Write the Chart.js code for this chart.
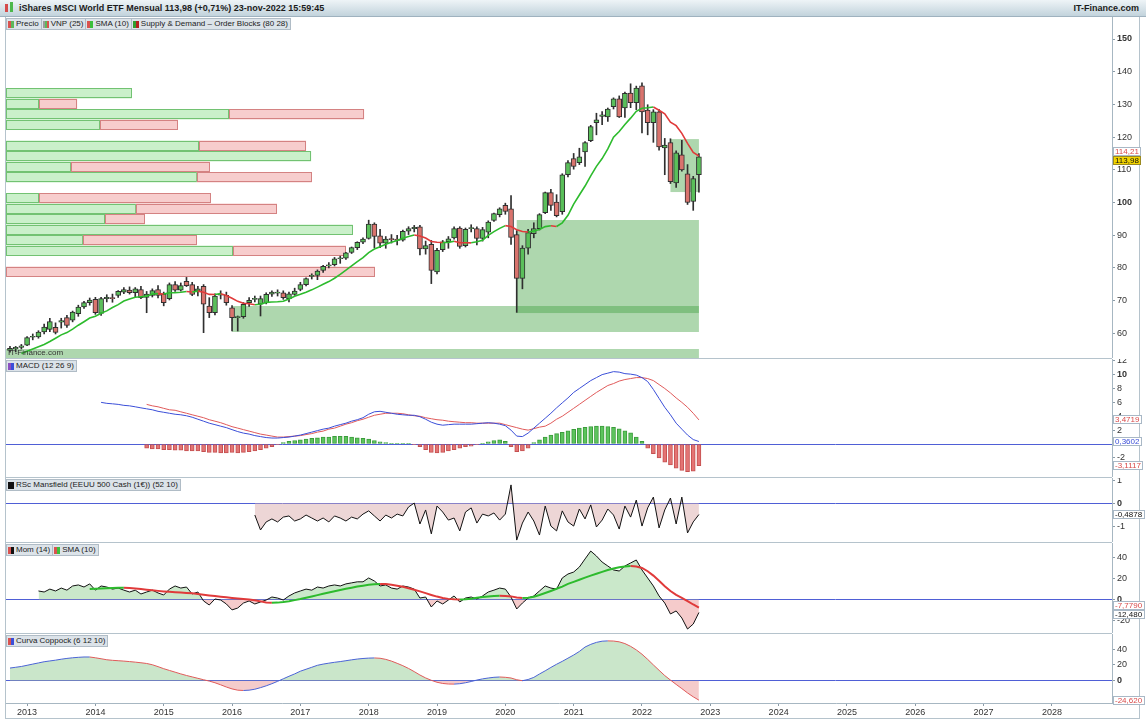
<!DOCTYPE html>
<html>
<head>
<meta charset="utf-8">
<script src="https://cdn.jsdelivr.net/npm/chart.js@4.4.0/dist/chart.umd.min.js"></script>
<style>
  html, body { margin: 0; padding: 0; background: #fff; }
  body { width: 1146px; height: 722px; position: relative; overflow: hidden; font-family: "Liberation Sans", Arial, sans-serif; }
  #title { position: absolute; left: 0; top: 0; width: 1146px; height: 16px; border-bottom: 1px solid #9fb2bf;
    background: linear-gradient(#eef4f7, #c2d3dc); font-size: 9px; font-weight: bold; color: #1b1b1b; line-height: 16px; }
  #title .name { position: absolute; left: 19px; }
  #title .site { position: absolute; right: 7px; }
  #title .logo { position: absolute; left: 5px; top: 4px; width: 3px; height: 8px; background: #d54b4b; }
  #title .logo2 { position: absolute; left: 10px; top: 2px; width: 3px; height: 10px; background: #4cb84c; }
  canvas { position: absolute; left: 0; }
  .tags { position: absolute; left: 6px; display: flex; z-index: 5; }
  .tag { height: 10px; line-height: 10px; font-size: 8px; background: #dce3e9; border: 1px solid #b0bcc6; margin-right: -1px;
    padding: 0 2px 0 1px; color: #222; display: flex; align-items: center; white-space: nowrap; }
  .ic { display: inline-block; width: 6px; height: 7px; margin-right: 2px; }
  .line { position: absolute; background: #b5c3cc; }
  .mark { position: absolute; left: 8px; top: 348px; font-size: 8px; color: #333; z-index: 5; }
</style>
</head>
<body>
<div id="title"><span class="logo"></span><span class="logo2"></span>
  <span class="name">iShares MSCI World ETF Mensual 113,98 (+0,71%) 23-nov-2022 15:59:45</span>
  <span class="site">IT-Finance.com</span></div>

<div class="line" style="left:5px;top:17px;width:1px;height:702px"></div>
<div class="line" style="left:1139px;top:17px;width:1px;height:702px"></div>
<div class="line" style="left:5px;top:718px;width:1135px;height:1px"></div>
<div class="line" style="left:5px;top:358px;width:1107px;height:1px"></div>
<div class="line" style="left:5px;top:477px;width:1107px;height:1px"></div>
<div class="line" style="left:5px;top:542px;width:1107px;height:1px"></div>
<div class="line" style="left:5px;top:633px;width:1107px;height:1px"></div>

<canvas id="main" width="1146" height="341" style="top:17px"></canvas>
<canvas id="macd" width="1146" height="118" style="top:359px"></canvas>
<canvas id="rsc" width="1146" height="64" style="top:478px"></canvas>
<canvas id="mom" width="1146" height="90" style="top:543px"></canvas>
<canvas id="cop" width="1146" height="84" style="top:634px"></canvas>

<div class="tags" style="top:18px">
  <span class="tag"><i class="ic" style="background:linear-gradient(90deg,#d9534f 50%,#5cb85c 50%)"></i>Precio</span>
  <span class="tag"><i class="ic" style="background:linear-gradient(90deg,#9a9a9a 33%,#5cb85c 33%,#5cb85c 66%,#d9534f 66%)"></i>VNP (25)</span>
  <span class="tag"><i class="ic" style="background:linear-gradient(90deg,#d9534f 50%,#3cbf3c 50%)"></i>SMA (10)</span>
  <span class="tag"><i class="ic" style="background:linear-gradient(90deg,#2f9e2f 50%,#b52020 50%)"></i>Supply &amp; Demand – Order Blocks (80 28)</span>
</div>
<div class="tags" style="top:360px">
  <span class="tag"><i class="ic" style="background:linear-gradient(90deg,#8a4fc0 50%,#3b4fd8 50%)"></i>MACD (12 26 9)</span>
</div>
<div class="tags" style="top:479px">
  <span class="tag"><i class="ic" style="background:#111"></i>RSc Mansfield (EEUU 500 Cash (1€)) (52 10)</span>
</div>
<div class="tags" style="top:544px">
  <span class="tag"><i class="ic" style="background:linear-gradient(90deg,#d9534f 50%,#111 50%)"></i>Mom (14)</span>
  <span class="tag"><i class="ic" style="background:linear-gradient(90deg,#d9534f 50%,#3cbf3c 50%)"></i>SMA (10)</span>
</div>
<div class="tags" style="top:635px">
  <span class="tag"><i class="ic" style="background:linear-gradient(90deg,#d9534f 50%,#3b4fd8 50%)"></i>Curva Coppock (6 12 10)</span>
</div>
<div class="mark">IT-Finance.com</div>

<script>
// monthly candles, index 0 = oct 2012 ... 121 = nov 2022
const open = [
  54.8, 55.2, 55.7, 56.4, 58.8, 58.9, 60.4, 61.2, 61.8, 63.4,
  64.8, 64.0, 66.0, 68.1, 69.4, 70.4, 66.1, 70.6, 70.8, 71.6,
  72.6, 73.2, 72.4, 73.4, 71.0, 71.6, 73.4, 71.9, 70.6, 74.9,
  73.2, 75.9, 74.9, 72.9, 74.4, 68.3, 66.3, 71.7, 71.6, 67.8,
  64.8, 65.1, 69.4, 70.4, 68.9, 69.4, 72.0, 72.3, 72.4, 70.6,
  71.9, 73.4, 74.9, 77.4, 77.7, 79.2, 80.6, 81.0, 82.8, 83.0,
  84.7, 86.2, 87.9, 89.0, 93.4, 89.8, 87.6, 89.0, 88.8, 88.5,
  91.2, 92.0, 92.6, 85.8, 87.2, 78.8, 85.6, 88.0, 89.2, 92.2,
  86.8, 92.0, 92.0, 89.0, 90.9, 94.5, 96.3, 99.1, 98.1, 90.2,
  76.8, 86.0, 90.5, 92.0, 96.9, 103.0, 100.1, 97.2, 108.5, 113.4,
  112.2, 115.5, 118.9, 124.4, 126.3, 126.2, 129.3, 131.7, 128.9, 133.5,
  130.5, 135.7, 128.3, 124.4, 127.7, 116.7, 118.3, 106.0, 114.6, 108.8,
  100.3, 108.5
];
const high = [
  56.0, 56.0, 56.6, 59.0, 59.8, 60.8, 62.8, 64.6, 63.2, 64.6,
  65.5, 66.8, 68.6, 69.8, 70.8, 71.0, 71.0, 71.8, 72.0, 73.1,
  74.0, 74.2, 74.0, 74.4, 72.8, 73.6, 74.6, 72.6, 75.4, 75.8,
  75.4, 77.1, 75.6, 74.4, 74.9, 70.9, 72.1, 73.0, 72.6, 68.5,
  65.3, 69.4, 70.9, 71.4, 71.4, 72.4, 73.0, 73.3, 73.0, 72.6,
  73.8, 75.6, 77.0, 78.2, 79.4, 80.8, 81.6, 83.2, 83.6, 84.8,
  86.4, 88.0, 89.2, 94.6, 93.8, 91.8, 89.6, 90.2, 90.0, 91.6,
  92.6, 93.0, 93.0, 88.2, 88.4, 86.0, 88.4, 89.6, 92.6, 92.6,
  92.2, 93.2, 92.6, 92.4, 94.4, 96.8, 98.4, 99.8, 102.1, 91.4,
  86.8, 91.8, 93.8, 96.6, 103.2, 104.0, 102.4, 108.8, 112.8, 115.0,
  116.6, 118.6, 123.6, 127.3, 127.8, 128.9, 132.0, 132.6, 133.8, 136.3,
  135.6, 136.6, 129.9, 128.4, 128.4, 119.6, 119.5, 115.8, 119.0, 111.6,
  108.0, 115.0
];
const low = [
  54.2, 54.3, 55.2, 56.2, 58.0, 58.5, 59.8, 60.5, 59.8, 61.6,
  61.8, 63.5, 65.2, 67.6, 68.6, 65.8, 65.5, 69.6, 69.5, 71.0,
  72.1, 72.0, 71.2, 70.6, 66.3, 71.1, 70.8, 68.4, 70.2, 72.8,
  72.9, 74.3, 71.5, 71.4, 60.2, 64.8, 65.6, 70.5, 68.6, 60.7,
  60.7, 64.6, 68.2, 69.6, 65.3, 69.0, 71.3, 71.4, 70.4, 69.6,
  71.6, 73.0, 74.5, 76.6, 76.4, 78.6, 80.0, 80.6, 81.4, 82.6,
  84.4, 85.6, 87.4, 88.8, 86.2, 86.2, 86.0, 87.6, 87.0, 88.2,
  90.2, 91.0, 84.0, 84.2, 75.2, 78.2, 85.0, 86.0, 88.8, 86.0,
  86.4, 91.0, 87.0, 88.2, 89.2, 94.2, 95.6, 96.4, 87.2, 66.4,
  73.6, 84.2, 89.2, 91.6, 96.6, 97.6, 95.6, 96.4, 107.8, 110.2,
  111.6, 111.0, 118.6, 120.7, 123.8, 124.8, 128.6, 126.0, 126.0, 129.0,
  128.4, 121.3, 120.7, 118.4, 116.0, 108.5, 105.8, 104.6, 109.6, 99.4,
  97.6, 103.2
];
const close = [
  55.4, 55.7, 56.2, 58.7, 59.1, 60.4, 61.9, 63.6, 60.3, 63.9,
  62.4, 66.5, 68.0, 69.4, 70.2, 66.3, 70.6, 71.0, 70.6, 72.8,
  73.4, 72.4, 73.6, 70.9, 72.0, 73.1, 71.6, 69.4, 74.9, 73.2,
  74.6, 74.6, 71.9, 73.6, 68.9, 66.3, 71.4, 71.9, 69.4, 64.8,
  64.9, 68.9, 70.1, 70.6, 70.6, 71.9, 72.6, 72.6, 70.9, 72.1,
  72.9, 74.9, 76.7, 77.7, 79.0, 80.5, 80.9, 82.8, 83.0, 84.6,
  86.2, 87.8, 88.8, 93.4, 89.6, 87.6, 88.8, 88.6, 88.4, 91.2,
  92.0, 92.4, 85.8, 86.8, 79.2, 85.4, 88.0, 88.9, 92.0, 86.6,
  91.8, 92.2, 89.0, 91.7, 94.0, 96.6, 98.1, 97.3, 89.3, 76.8,
  86.1, 90.8, 92.0, 96.3, 103.0, 99.1, 96.0, 108.5, 112.2, 111.0,
  114.0, 118.3, 123.2, 125.3, 126.8, 128.6, 131.7, 126.2, 133.4, 130.5,
  135.0, 127.7, 124.4, 127.7, 117.0, 117.6, 106.4, 115.2, 110.0, 100.0,
  107.3, 113.98
];

// SMA (10) of price, starts at index 2
const smaStart = 2;
const sma10 = [
  53.8, 54.5, 55.2, 55.9, 56.6, 57.5, 58.5, 59.52, 60.22, 61.30,
  62.48, 63.55, 64.66, 65.25, 66.12, 66.86, 67.89, 68.78, 69.88, 70.47,
  71.03, 71.18, 71.36, 72.04, 72.14, 71.98, 72.41, 72.45, 72.57, 72.79,
  72.62, 72.89, 72.58, 71.90, 71.88, 72.13, 71.58, 70.74, 69.77, 69.20,
  69.02, 68.72, 68.89, 69.45, 69.57, 69.64, 69.79, 70.52, 71.32, 71.92,
  72.58, 73.29, 74.13, 74.99, 75.82, 76.84, 78.05, 79.30, 80.63, 81.92,
  83.13, 84.70, 85.76, 86.47, 87.26, 87.84, 88.38, 89.04, 89.62, 90.08,
  89.78, 89.12, 88.08, 87.86, 87.78, 87.81, 88.17, 87.71, 87.69, 87.67,
  87.99, 88.48, 89.96, 91.08, 92.09, 92.93, 92.66, 91.68, 91.11, 90.97,
  91.27, 91.73, 92.63, 92.88, 92.67, 93.79, 96.08, 99.50, 102.29, 105.04,
  108.16, 111.06, 113.44, 116.39, 119.96, 121.73, 123.85, 125.80, 127.90, 128.84,
  128.96, 129.20, 128.22, 127.12, 124.59, 123.49, 121.15, 118.10, 115.33, 114.21
];

// volume at price (VNP 25): bin bottoms and up / down volume (in month widths)
const vnpStep = 3.21;
const vnpBottom = [131.80, 128.59, 125.38, 122.17, 115.75, 112.54, 109.33, 106.12, 99.69, 96.48, 93.27, 90.06, 86.85, 83.64, 77.22];
const vnpUp =     [22.1, 5.8, 39.2, 16.5, 33.9, 53.6, 11.4, 33.5, 5.8, 22.8, 17.4, 60.9, 13.5, 39.9, 0];
const vnpDown =   [0, 6.7, 23.7, 13.7, 18.8, 0, 24.4, 20.2, 30.2, 24.8, 7.0, 0, 20.0, 19.8, 64.8];

// supply & demand order blocks
const zoneFrom = [39, 89, 116, -0.7];
const zoneTo = [121, 121, 121, 121];
const zoneLow = [60.4, 66.2, 103.2, 50.0];
const zoneHigh = [68.35, 94.65, 119.4, 55.2];

// MACD (12 26 9)
const macdStart = 16;
const macdLine = [
  6.0, 5.86, 5.79, 5.71, 5.57, 5.5, 5.36, 5.21, 5.07, 4.93,
  4.71, 4.57, 4.43, 4.29, 4.21, 4.07, 3.86, 3.57, 3.29, 3.0,
  2.79, 2.57, 2.36, 2.07, 1.79, 1.57, 1.43, 1.21, 1.07, 0.93,
  0.86, 0.86, 0.93, 1.0, 1.14, 1.29, 1.5, 1.71, 1.93, 2.14,
  2.29, 2.57, 2.79, 3.0, 3.29, 3.5, 3.79, 4.29, 4.64, 4.71,
  4.57, 4.43, 4.29, 4.21, 4.14, 4.14, 3.93, 3.57, 3.14, 2.86,
  2.71, 2.79, 2.86, 2.86, 2.86, 2.86, 2.93, 3.0, 3.07, 3.0,
  2.86, 2.64, 2.0, 1.14, 1.07, 1.57, 2.29, 3.0, 3.71, 4.43,
  5.21, 5.93, 6.64, 7.43, 8.0, 8.57, 9.14, 9.57, 10.0, 10.21,
  10.43, 10.36, 10.14, 10.07, 9.93, 9.57, 9.0, 7.86, 6.57, 5.29,
  4.21, 3.0, 2.14, 1.29, 0.64, 0.3602
];
const signalStart = 24;
const signalLine = [
  5.71, 5.5, 5.36, 5.14, 4.93, 4.86, 4.64, 4.43, 4.21, 4.0,
  3.79, 3.5, 3.29, 3.07, 2.79, 2.5, 2.29, 2.07, 1.86, 1.64,
  1.43, 1.29, 1.14, 1.0, 1.0, 1.07, 1.14, 1.21, 1.36, 1.5,
  1.71, 1.86, 2.14, 2.29, 2.57, 2.86, 3.07, 3.36, 3.57, 3.86,
  4.14, 4.29, 4.43, 4.43, 4.43, 4.36, 4.21, 4.07, 4.0, 3.79,
  3.64, 3.5, 3.43, 3.29, 3.21, 3.14, 3.07, 3.07, 3.0, 3.0,
  3.0, 3.0, 3.0, 2.79, 2.57, 2.36, 2.14, 2.0, 2.21, 2.43,
  2.57, 3.0, 3.57, 4.0, 4.57, 5.14, 5.71, 6.29, 6.86, 7.43,
  7.93, 8.43, 8.71, 9.07, 9.29, 9.43, 9.57, 9.57, 9.43, 9.14,
  8.57, 8.0, 7.36, 6.64, 6.0, 5.29, 4.43, 3.4719
];
const histStart = 24;
const histBars = [
  -0.6, -0.7, -0.7, -0.8, -0.8, -0.9, -0.9, -1.0, -1.0, -1.0,
  -1.1, -1.2, -1.2, -1.3, -1.3, -1.2, -1.3, -1.2, -1.1, -1.0,
  -0.8, -0.6, -0.4, -0.1, 0.2, 0.4, 0.5, 0.6, 0.7, 0.8,
  0.9, 1.0, 1.0, 1.1, 1.1, 1.1, 1.0, 0.9, 0.8, 0.7,
  0.5, 0.3, 0.2, 0.1, 0.05, 0.1, 0.05, -0.1, -0.4, -0.8,
  -1.2, -1.3, -1.2, -1.0, -0.8, -0.6, -0.4, -0.3, -0.1, 0.1,
  0.3, 0.5, 0.6, 0.4, -0.4, -1.1, -1.0, -0.6, 0.2, 0.6,
  1.0, 1.3, 1.5, 1.7, 1.9, 2.1, 2.3, 2.4, 2.5, 2.6,
  2.6, 2.5, 2.4, 2.2, 1.9, 1.6, 1.0, 0.4, -0.6, -1.4,
  -2.0, -2.6, -3.0, -3.5, -3.8, -4.0, -3.9, -3.1117
];

// RSc Mansfield (52 10)
const rscStart = 43;
const rscLine = [
  -0.51, -1.16, -0.81, -0.68, -0.81, -0.6, -0.55, -0.77, -0.68, -0.51,
  -0.64, -0.77, -0.64, -0.81, -0.55, -0.64, -0.77, -0.6, -0.68, -0.47,
  -0.33, -0.55, -0.77, -0.51, -0.64, -0.47, -0.55, -0.16, 0.01, -0.9,
  -0.29, -1.33, -0.12, -0.38, -0.73, -0.64, -1.2, -0.38, -0.2, -0.86,
  -0.47, -0.55, -0.42, -0.73, -0.47, 0.8, -1.6, -0.86, -0.38, -0.77,
  -1.38, -0.12, -0.99, -1.2, -0.33, -0.81, -0.99, -0.25, -0.68, -0.07,
  -1.03, -0.73, -0.25, -0.51, -1.12, -0.12, -0.6, 0.14, -0.99, -0.2,
  0.27, -1.07, -0.29, 0.23, -0.9, 0.27, -1.29, -0.81, -0.4878
];

// Momentum (14) and its SMA (10)
const momStart = 5;
const momLine = [
  8.2, 7.2, 10, 8.2, 11, 9, 13, 14, 12, 15,
  9, 13, 12, 10, 11, 9, 7.2, 9, 5.3, 7.2,
  9, 6.3, 4.3, 10, 13, 11, 12, 5.3, 7.2, -1.4,
  -5.3, 0.5, -0.5, -4.3, -10, -8.2, -3.4, -1.4, -4.3, -2.4,
  -0.5, 2.4, 1.4, -0.5, 3.4, 6.3, 8.2, 10, 9, 12,
  11, 13, 14, 13, 15, 16, 17, 17, 20.7, 17.8,
  13, 14, 11, 10, 13, 12, 10, 1.4, 2.4, -7.2,
  -1.4, -4.3, -0.5, 3.4, -2.4, 1.4, 2.4, 0.5, 3.4, 7.2,
  9, 11, 10, 2.4, -9.1, -3.4, 1.4, 3.4, 8.2, 13,
  11, 10, 20.7, 24.5, 26.4, 31.2, 39, 46.6, 41.8, 36,
  32.2, 28.4, 27.4, 32.2, 35.1, 38, 28.4, 20.7, 13, 3.4,
  -3.4, -13.9, -11, -17.8, -28.4, -23.6, -12.48
];
const momSmaStart = 14;
const momSma = [
  10.0, 10.3, 10.6, 10.9, 11.1, 11.2, 11.2, 11.0, 10.6, 10.0,
  9.4, 8.9, 8.3, 7.8, 7.4, 7.0, 6.7, 6.3, 5.9, 5.3,
  4.6, 3.9, 3.3, 2.7, 2.1, 1.5, 1.0, 0.5, 0.0, -0.8,
  -1.8, -2.8, -3.2, -3.0, -2.4, -1.6, -0.6, 0.4, 1.6, 2.9,
  4.2, 5.5, 6.8, 8.0, 9.2, 10.3, 11.4, 12.4, 13.3, 14.1,
  14.7, 15.0, 14.8, 14.2, 13.3, 12.2, 10.9, 9.4, 7.8, 6.1,
  4.4, 2.8, 1.5, 0.6, 0.2, 0.1, 0.3, 0.8, 1.6, 2.3,
  2.9, 3.3, 3.5, 3.4, 3.0, 2.0, 1.4, 1.6, 2.6, 4.3,
  6.2, 8.2, 10.3, 12.4, 15.0, 17.0, 19.0, 21.0, 23.0, 24.8,
  26.6, 28.3, 29.8, 31.0, 31.8, 32.2, 31.8, 30.3, 27.2, 23.0,
  18.0, 12.8, 8.2, 4.5, 1.5, -1.5, -4.8, -7.779
];

// Curva Coppock (6 12 10)
const copStart = 0;
const coppock = [
  16, 17, 18, 19.5, 21, 22.5, 24, 25, 26, 27.2,
  28.2, 29, 29.6, 30, 30, 29, 27.8, 26.5, 25.8, 25.3,
  24.8, 24.2, 23.5, 22.7, 21.8, 20.2, 17.8, 15.2, 13, 10.8,
  8.6, 6.6, 4.8, 3.0, 1.2, -0.5, -2.6, -5.2, -8.0, -10.4,
  -12, -12.4, -12, -10.8, -8.8, -6.5, -3.8, -0.8, 2.4, 5.6,
  8.6, 12, 14.5, 17, 19.5, 21, 22.2, 23.3, 24.2, 25.3,
  26.4, 27.4, 28.1, 28.6, 28.8, 28.4, 27, 24.8, 22, 19,
  15.5, 11.5, 7.2, 3.5, 0.5, -2.0, -3.5, -4.2, -4.3, -3.8,
  -2.6, -1.0, 0.8, 2.3, 3.4, 4.3, 4.7, 4.3, 3.4, 1.2,
  0.0, 1.5, 4.2, 8.5, 12.5, 16.8, 20.8, 24.5, 28.5, 32.5,
  37, 42.6, 46, 48.5, 50, 50.4, 50.2, 49.2, 47, 43.5,
  39, 33.5, 27, 20, 13.2, 6.5, 0.8, -4.7, -10, -15.5,
  -20.4, -24.62
];

// x axis: years, index of january 2013 = 3
const yearLabels = ['2013', '2014', '2015', '2016', '2017', '2018', '2019', '2020',
  '2021', '2022', '2023', '2024', '2025', '2026', '2027', '2028'];
const firstJan = 3;

const FONT = '"Liberation Sans", Arial, sans-serif';
Chart.defaults.font.family = FONT;
Chart.defaults.font.size = 9;
Chart.defaults.color = '#333';

const X_MIN = -0.7, X_MAX = 193.55;
const UP = '#5abf5a', DOWN = '#d9736d', EDGE = '#2f2f2f';

const pts = (start, vals) => vals.map((v, i) => ({ x: start + i, y: v }));
const last = arr => arr[arr.length - 1];

function xAxis(show) {
  return {
    type: 'linear', min: X_MIN, max: X_MAX, offset: false, display: show,
    afterBuildTicks: s => { s.ticks = yearLabels.map((_, i) => ({ value: firstJan + 12 * i })); },
    afterFit: s => { s.height = show ? 15 : 0; s.paddingLeft = 0; s.paddingRight = 0; },
    grid: { drawOnChartArea: false, tickLength: 3, color: '#8b9ba7', offset: false },
    border: { color: '#a7b7c2' },
    ticks: { autoSkip: false, maxRotation: 0, padding: 1,
      callback: v => yearLabels[Math.round((v - firstJan) / 12)] }
  };
}

function yAxis(min, max, ticks, bold, zero) {
  return {
    position: 'right', min, max,
    afterBuildTicks: s => { s.ticks = ticks.map(v => ({ value: v })); },
    afterFit: s => { s.width = 34; s.paddingTop = 0; s.paddingBottom = 0; },
    grid: {
      color: c => (zero && c.tick && c.tick.value === 0) ? '#4f5fd6' : 'rgba(0,0,0,0)',
      tickColor: '#8b9ba7', tickLength: 3
    },
    border: { color: '#a7b7c2' },
    ticks: {
      padding: 2,
      callback: v => String(v).replace('.', ','),
      font: c => ({ family: FONT, size: 9, weight: (c.tick && bold.includes(c.tick.value)) ? 'bold' : 'normal' })
    }
  };
}

function baseOptions(x, y) {
  return {
    responsive: false, animation: false, events: [],
    layout: { padding: { left: 6, right: 0, top: 0, bottom: 0 } },
    plugins: { legend: { display: false }, tooltip: { enabled: false } },
    scales: { x, y }
  };
}

// boxed last values on the right axis
function tagPlugin(list) {
  return {
    id: 'tags',
    afterDraw(chart) {
      const { ctx, scales: { y } } = chart;
      ctx.save();
      ctx.font = '8px ' + FONT;
      const items = list.map(t => Object.assign({}, t, { py: y.getPixelForValue(t.v) }))
        .sort((a, b) => a.py - b.py);
      for (let k = 0; k < 6; k++) {
        for (let i = 1; i < items.length; i++) {
          const gap = items[i].py - items[i - 1].py;
          if (gap < 9) { const d = (9 - gap) / 2; items[i - 1].py -= d; items[i].py += d; }
        }
      }
      items.forEach(t => {
        const txt = t.v.toFixed(t.dec).replace('.', ',');
        const w = Math.ceil(ctx.measureText(txt).width) + 4;
        const x0 = Math.round(y.left) + 1, y0 = Math.round(t.py - 4.5);
        ctx.fillStyle = t.bg; ctx.fillRect(x0, y0, w, 9);
        ctx.strokeStyle = t.bd; ctx.lineWidth = 1; ctx.strokeRect(x0 + 0.5, y0 + 0.5, w - 1, 8);
        ctx.fillStyle = t.fg; ctx.textBaseline = 'middle'; ctx.textAlign = 'left';
        ctx.fillText(txt, x0 + 2, y0 + 5);
      });
      ctx.restore();
    }
  };
}

// volume profile rows and order block zones, behind the candles
const blocksPlugin = {
  id: 'blocks',
  beforeDatasetsDraw(chart) {
    const { ctx, chartArea: a, scales: { x, y } } = chart;
    ctx.save();
    ctx.beginPath(); ctx.rect(a.left, a.top, a.right - a.left, a.bottom - a.top); ctx.clip();
    const part = (x1, x2, yt, yb, fill, edge) => {
      ctx.fillStyle = fill; ctx.fillRect(x1, yt, x2 - x1, yb - yt);
      ctx.strokeStyle = edge; ctx.lineWidth = 1;
      ctx.strokeRect(Math.round(x1) + 0.5, Math.round(yt) + 0.5, Math.round(x2 - x1) - 1, Math.round(yb - yt) - 1);
    };
    vnpBottom.forEach((b, i) => {
      const yt = y.getPixelForValue(b + vnpStep), yb = y.getPixelForValue(b);
      const x0 = x.getPixelForValue(X_MIN);
      const xg = x.getPixelForValue(X_MIN + vnpUp[i]);
      const xr = x.getPixelForValue(X_MIN + vnpUp[i] + vnpDown[i]);
      if (vnpUp[i] > 0) part(x0, xg, yt, yb, 'rgba(196,238,196,0.9)', '#72c272');
      if (vnpDown[i] > 0) part(xg, xr, yt, yb, 'rgba(246,200,200,0.9)', '#d48282');
    });
    zoneFrom.forEach((f, i) => {
      const x1 = x.getPixelForValue(f), x2 = x.getPixelForValue(zoneTo[i]);
      const y1 = y.getPixelForValue(zoneHigh[i]), y2 = y.getPixelForValue(zoneLow[i]);
      ctx.fillStyle = 'rgba(62,160,62,0.42)';
      ctx.fillRect(x1, y1, x2 - x1, y2 - y1);
    });
    ctx.restore();
  }
};

const rising = (up, down) => c => c.p1.parsed.y >= c.p0.parsed.y ? up : down;

// price panel
new Chart(document.getElementById('main'), {
  type: 'bar',
  data: {
    datasets: [
      { type: 'line', data: pts(smaStart, sma10), borderColor: '#2dbb2d', borderWidth: 1.6, pointRadius: 0,
        segment: { borderColor: rising('#2dbb2d', '#e03a3a') }, order: 0 },
      { data: close.map((c, i) => ({ x: i, y: [open[i], c] })),
        backgroundColor: close.map((c, i) => c >= open[i] ? UP : DOWN),
        borderColor: EDGE, borderWidth: 1, borderSkipped: false, barThickness: 5, minBarLength: 1,
        grouped: false, order: 1 },
      { data: close.map((c, i) => ({ x: i, y: [low[i], high[i]] })),
        backgroundColor: EDGE, borderWidth: 0, barThickness: 1, grouped: false, order: 2 }
    ]
  },
  options: baseOptions(xAxis(false), yAxis(52.45, 156.73, [60, 70, 80, 90, 100, 110, 120, 130, 140, 150], [100, 150], false)),
  plugins: [blocksPlugin, tagPlugin([
    { v: last(sma10), dec: 2, fg: '#d84a4a', bg: '#ffffff', bd: '#a9b8c6' },
    { v: last(close), dec: 2, fg: '#111', bg: '#f3d400', bd: '#9a8a20' }
  ])]
});

// MACD panel
new Chart(document.getElementById('macd'), {
  type: 'bar',
  data: {
    datasets: [
      { type: 'line', data: pts(macdStart, macdLine), borderColor: '#3a4ed8', borderWidth: 1, pointRadius: 0, order: 0 },
      { type: 'line', data: pts(signalStart, signalLine), borderColor: '#e05a5a', borderWidth: 1, pointRadius: 0, order: 1 },
      { data: pts(histStart, histBars),
        backgroundColor: histBars.map(v => v >= 0 ? '#5cc45c' : '#e47474'),
        borderColor: histBars.map(v => v >= 0 ? '#3c9c3c' : '#c45050'),
        borderWidth: 1, borderSkipped: false, barThickness: 4, grouped: false, order: 2 }
    ]
  },
  options: baseOptions(xAxis(false), yAxis(-4.755, 12.25, [-2, 0, 2, 4, 6, 8, 10, 12], [10], true)),
  plugins: [tagPlugin([
    { v: last(signalLine), dec: 4, fg: '#d84a4a', bg: '#fff', bd: '#a9b8c6' },
    { v: last(macdLine), dec: 4, fg: '#3a4ed8', bg: '#fff', bd: '#a9b8c6' },
    { v: last(histBars), dec: 4, fg: '#d84a4a', bg: '#fff', bd: '#a9b8c6' }
  ])]
});

// RSc Mansfield panel
new Chart(document.getElementById('rsc'), {
  type: 'line',
  data: {
    datasets: [
      { data: pts(rscStart, rscLine), borderColor: '#111', borderWidth: 1, pointRadius: 0,
        fill: { target: 'origin', above: 'rgba(222,180,180,0.55)', below: 'rgba(222,180,180,0.55)' } }
    ]
  },
  options: baseOptions(xAxis(false), yAxis(-1.683, 1.1, [-1, -0.5, 0, 0.5, 1], [0], true)),
  plugins: [tagPlugin([{ v: last(rscLine), dec: 4, fg: '#111', bg: '#fff', bd: '#a9b8c6' }])]
});

// Momentum panel
new Chart(document.getElementById('mom'), {
  type: 'line',
  data: {
    datasets: [
      { data: pts(momSmaStart, momSma), borderColor: '#2dbb2d', borderWidth: 2, pointRadius: 0,
        segment: { borderColor: rising('#2dbb2d', '#e03a3a') }, order: 0 },
      { data: pts(momStart, momLine), borderColor: '#111', borderWidth: 1, pointRadius: 0, order: 1,
        fill: { target: 'origin', above: 'rgba(150,210,150,0.5)', below: 'rgba(236,160,160,0.55)' } }
    ]
  },
  options: baseOptions(xAxis(false), yAxis(-32.21, 54.33, [-20, 0, 20, 40], [0], true)),
  plugins: [tagPlugin([
    { v: last(momSma), dec: 4, fg: '#d84a4a', bg: '#fff', bd: '#a9b8c6' },
    { v: last(momLine), dec: 3, fg: '#111', bg: '#fff', bd: '#a9b8c6' }
  ])]
});

// Coppock panel with the year axis
new Chart(document.getElementById('cop'), {
  type: 'line',
  data: {
    datasets: [
      { data: pts(copStart, coppock), borderColor: '#4a63d6', borderWidth: 1, pointRadius: 0,
        segment: { borderColor: rising('#4a63d6', '#e05a5a') }, order: 0 },
      { data: pts(copStart, coppock), borderWidth: 0, pointRadius: 0, order: 1,
        fill: { target: 'origin', above: 'rgba(150,205,150,0.5)', below: 'rgba(236,160,160,0.55)' } }
    ]
  },
  options: baseOptions(xAxis(true), yAxis(-28.23, 59.11, [0, 20, 40], [0], true)),
  plugins: [tagPlugin([{ v: last(coppock), dec: 3, fg: '#d84a4a', bg: '#fff', bd: '#a9b8c6' }])]
});
</script>
</body>
</html>
